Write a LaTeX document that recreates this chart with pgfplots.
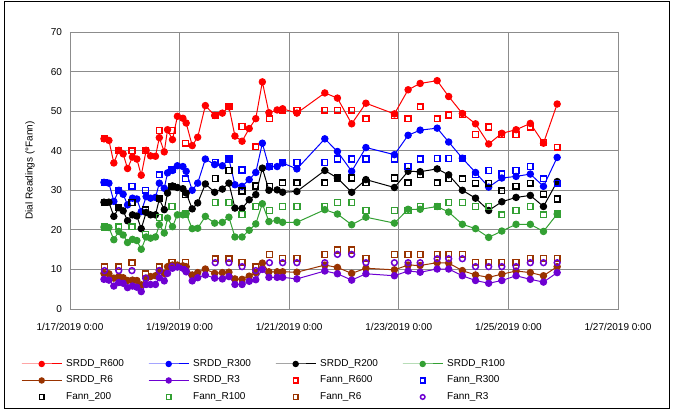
\documentclass[border=0pt]{standalone}
\usepackage{pgfplots}
\usepackage{pgfplotstable}
\pgfplotsset{compat=1.18}
\usepackage{fontspec}
\setmainfont{Liberation Sans}
\definecolor{cR}{RGB}{255,0,0}
\definecolor{cB}{RGB}{0,0,255}
\definecolor{cK}{RGB}{0,0,0}
\definecolor{cG}{RGB}{51,160,51}
\definecolor{cBr}{RGB}{153,51,0}
\definecolor{cP}{RGB}{110,0,210}
\definecolor{gridgray}{RGB}{140,140,140}

% x = days since 1/17/2019 0:00
\pgfplotstableread{
x     r600  r300  r200  r100  r6    r3
0.62  43.0  32.0  27.0  20.7  9.0   7.5
0.71  42.6  31.8  27.0  20.6  8.9   7.3
0.80  36.9  27.2  23.4  17.5  7.8   5.8
0.89  40.1  30.0  25.6  19.6  8.2   6.7
0.97  39.2  29.0  24.8  18.7  7.9   6.5
1.05  35.5  26.3  22.3  16.8  7.2   5.4
1.14  38.4  28.0  23.8  17.6  7.3   5.8
1.22  37.9  27.8  23.5  17.3  7.2   5.5
1.30  33.8  24.6  20.3  15.1  6.1   4.4
1.39  40.1  28.4  24.4  18.2  7.8   6.2
1.47  38.7  28.0  23.8  17.9  8.2   6.2
1.56  38.6  28.2  23.8  18.2  8.4   6.2
1.63  43.3  31.8  27.8  21.3  9.7   7.9
1.72  39.7  30.5  25.1  19.2  9.0   7.1
1.78  45.3  34.4  29.3  23.0  10.7  9.0
1.87  42.8  35.0  31.1  20.8  11.1  10.3
1.96  48.7  36.2  30.7  23.8  11.1  10.6
2.06  48.2  36.0  30.4  23.8  10.9  10.3
2.12  47.0  34.8  29.3  24.1  10.7  9.4
2.23  41.3  30.0  25.3  20.3  8.6   7.1
2.33  43.4  31.8  26.8  20.4  9.2   7.9
2.47  51.4  37.9  31.6  23.4  10.1  8.6
2.64  48.9  36.5  29.5  21.7  9.0   7.8
2.78  49.5  36.2  30.3  21.9  9.2   7.6
2.90  51.1  37.9  31.8  23.2  9.3   8.2
3.01  43.7  31.4  25.5  18.2  7.6   6.2
3.14  42.4  31.0  25.4  18.2  7.5   6.2
3.27  45.6  32.7  27.6  19.9  8.3   7.0
3.39  48.1  34.5  28.9  21.5  9.2   7.4
3.51  57.4  41.9  35.6  26.6  11.6  10.0
3.63  49.6  35.9  30.0  22.1  9.4   8.0
3.78  50.3  36.0  30.1  22.4  9.4   8.0
3.88  50.6  36.9  29.5  21.9  9.4   8.0
4.14  49.5  35.4  29.7  21.9  9.3   7.6
4.65  54.6  43.0  35.0  25.1  11.1  9.6
4.88  53.3  39.8  33.1  24.0  10.5  8.9
5.14  46.8  34.8  29.5  21.3  9.0   7.3
5.40  52.0  40.8  32.7  23.2  10.3  8.9
5.92  49.3  39.0  30.7  21.7  9.9   8.4
6.17  55.4  43.9  34.8  25.2  11.1  9.6
6.39  57.0  45.2  34.7  25.2  11.0  9.3
6.70  57.7  45.7  35.4  25.9  11.7  10.1
6.91  53.7  42.2  33.9  24.5  11.6  10.1
7.16  49.4  38.1  30.0  21.4  9.7   8.4
7.40  46.8  34.5  28.0  20.3  8.6   7.2
7.64  41.7  30.8  24.9  18.1  8.0   6.5
7.88  44.4  33.1  27.1  19.7  8.8   7.2
8.14  45.3  33.5  28.2  21.4  9.6   8.4
8.40  46.9  34.1  28.7  21.4  9.2   7.5
8.64  41.9  31.0  25.9  19.6  8.4   6.8
8.89  51.8  38.3  32.2  24.0  10.7  9.2
}\srdd

\pgfplotstableread{
x     r600  r300  r200  r100  r6    r3
0.63  43.0  32.0  27.0  20.7  10.7  9.7
0.89  40.0  30.0  25.6  20.8  10.7  9.7
1.13  40.0  31.0  26.9  20.8  11.7  9.7
1.38  40.0  30.0  25.0  18.9  8.9   7.8
1.63  45.1  33.9  28.0  23.1  10.7  9.7
1.86  45.1  35.2  31.0  25.9  11.8  10.7
2.11  41.9  32.9  28.9  24.0  11.8  9.7
2.65  48.9  37.0  33.0  26.9  12.7  11.7
2.90  51.1  37.9  35.0  26.9  12.7  11.7
3.14  46.1  35.1  29.8  23.9  11.8  10.7
3.39  41.0  31.0  31.1  25.9  10.7  9.7
3.64  48.1  36.0  31.0  24.9  13.8  11.7
3.88  50.2  37.0  31.9  25.9  12.8  11.7
4.14  50.2  37.0  31.9  25.9  12.8  11.7
4.65  50.2  37.0  31.9  25.9  13.8  11.7
4.88  50.2  37.9  33.1  26.9  14.9  13.8
5.14  50.2  37.9  33.1  26.9  14.9  13.8
5.40  48.1  37.9  31.9  24.9  12.8  11.7
5.92  48.9  37.9  33.1  24.9  13.8  11.7
6.17  48.1  36.0  31.9  24.9  13.8  11.7
6.39  51.1  37.9  33.9  25.9  13.8  11.7
6.70  48.1  38.0  31.9  25.9  13.8  12.7
6.91  49.0  38.0  33.0  26.9  13.8  12.7
7.16  49.1  38.0  32.9  26.9  13.8  12.7
7.40  44.1  33.9  31.8  25.9  11.8  10.7
7.64  46.0  35.0  31.8  25.9  11.8  10.7
7.88  44.1  34.1  29.9  23.8  11.8  10.7
8.14  44.1  35.0  31.0  24.9  11.8  10.7
8.40  46.0  36.0  31.8  25.9  12.8  11.7
8.64  42.1  32.9  29.0  23.8  12.8  11.7
8.89  40.9  31.8  27.8  24.0  12.8  11.7
}\fann

\pgfplotsset{
  srdd/.style={line width=1pt, mark=*, mark size=3.2pt, mark options={solid},
    legend image code/.code={\draw[mark repeat=2,mark phase=2,##1,mark size=2.7pt] plot coordinates {(0pt,0pt) (20pt,0pt) (40pt,0pt)};}},
  fann/.style={only marks, mark=square, mark size=2.9pt, line width=1.5pt,
    legend image code/.code={\draw[mark repeat=2,mark phase=2,##1,mark size=2.3pt] plot coordinates {(0pt,0pt) (20pt,0pt) (40pt,0pt)};}},
}

\begin{document}
\begin{tikzpicture}
\useasboundingbox (-70pt,-102pt) rectangle (605pt,309pt);
\fill[white] (-70pt,-102pt) rectangle (605pt,309pt);
\draw[black, line width=1pt] (-65pt,-100pt) rectangle (599pt,307pt);
\begin{axis}[
  at={(0pt,0pt)}, anchor=south west,
  scale only axis, width=548pt, height=277pt,
  xmin=0, xmax=10, ymin=0, ymax=70,
  xtick={0,2,4,6,8,10},
  xticklabels={1/17/2019 0:00,1/19/2019 0:00,1/21/2019 0:00,1/23/2019 0:00,1/25/2019 0:00,1/27/2019 0:00},
  ytick={0,10,20,30,40,50,60,70},
  grid=major,
  major grid style={draw=gridgray, line width=0.9pt},
  axis line style={draw=gridgray, line width=0.9pt},
  major tick length=0pt,
  /pgf/number format/assume math mode=true,
  tick label style={font=\fontsize{10}{12}\selectfont},
  xticklabel style={yshift=-11pt},
  yticklabel style={xshift=-4.5pt},
  ylabel={Dial Readings (°Fann)},
  every axis y label/.style={at={(axis description cs:-0.073,0.5)}, rotate=90, anchor=center, font=\fontsize{10}{12}\selectfont},
  legend columns=4,
  legend style={at={(-0.0894,-0.168)}, anchor=north west, draw=none, fill=none, inner sep=0pt,
    font=\fontsize{10}{12}\selectfont,
    nodes={text width=82pt, align=left, inner xsep=0pt, inner ysep=3.25pt, text height=7.5pt, text depth=2.5pt},
    row sep=0pt,
    /tikz/every odd column/.append style={column sep=4pt},
    /tikz/every even column/.append style={column sep=0pt}},
  legend cell align=left,
]
\addplot[srdd, color=cR] table[x=x,y=r600] {\srdd};
\addlegendentry{SRDD\_R600}
\addplot[srdd, color=cB] table[x=x,y=r300] {\srdd};
\addlegendentry{SRDD\_R300}
\addplot[srdd, color=cK] table[x=x,y=r200] {\srdd};
\addlegendentry{SRDD\_R200}
\addplot[srdd, color=cG] table[x=x,y=r100] {\srdd};
\addlegendentry{SRDD\_R100}
\addplot[srdd, color=cBr] table[x=x,y=r6] {\srdd};
\addlegendentry{SRDD\_R6}
\addplot[srdd, color=cP] table[x=x,y=r3] {\srdd};
\addlegendentry{SRDD\_R3}
\addplot[fann, color=cR] table[x=x,y=r600] {\fann};
\addlegendentry{Fann\_R600}
\addplot[fann, color=cB] table[x=x,y=r300] {\fann};
\addlegendentry{Fann\_R300}
\addplot[fann, color=cK] table[x=x,y=r200] {\fann};
\addlegendentry{Fann\_200}
\addplot[fann, color=cG] table[x=x,y=r100] {\fann};
\addlegendentry{Fann\_R100}
\addplot[fann, color=cBr] table[x=x,y=r6] {\fann};
\addlegendentry{Fann\_R6}
\addplot[fann, color=cP, mark=o] table[x=x,y=r3] {\fann};
\addlegendentry{Fann\_R3}
\end{axis}
\end{tikzpicture}
\end{document}
